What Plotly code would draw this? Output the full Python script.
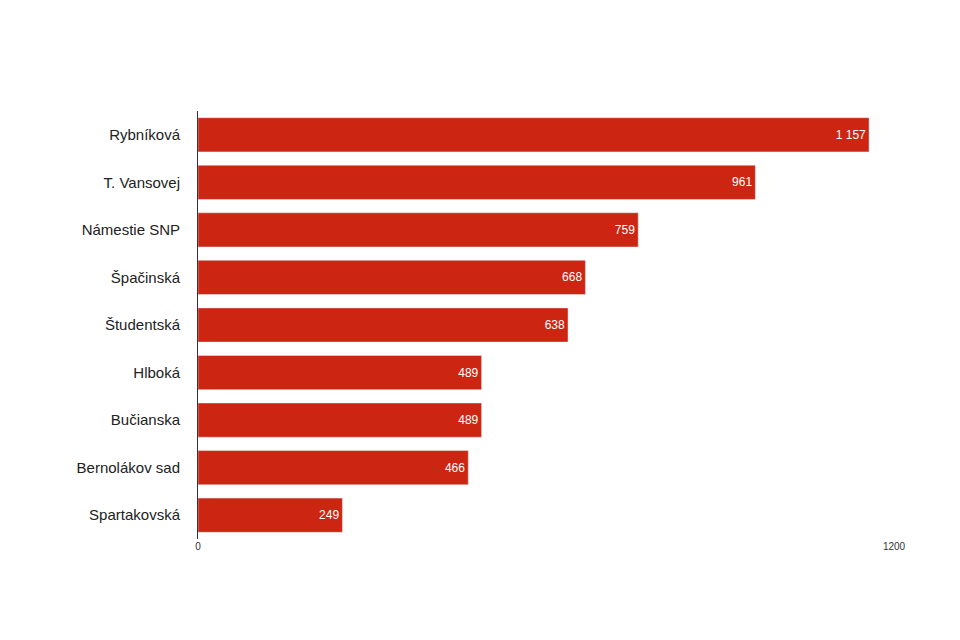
import plotly.graph_objects as go

# streets and counts, top to bottom
streets = ["Rybníková", "T. Vansovej", "Námestie SNP", "Špačinská", "Študentská",
           "Hlboká", "Bučianska", "Bernolákov sad", "Spartakovská"]
counts = [1157, 961, 759, 668, 638, 489, 489, 466, 249]
labels = [f"{v:,}".replace(",", " ") for v in counts]

fig = go.Figure(go.Bar(
    x=counts, y=streets, orientation="h",
    marker_color="#cc2613",
    text=labels, textposition="inside", insidetextanchor="end",
    textfont=dict(color="white", size=12, family="Liberation Sans"),
    cliponaxis=False,
))

fig.update_layout(
    width=960, height=640,
    margin=dict(l=190, r=74, t=103, b=109),
    plot_bgcolor="white", paper_bgcolor="white",
    showlegend=False, bargap=0.28,
    font=dict(family="Liberation Sans", color="#222"),
)
fig.update_xaxes(range=[0, 1200], tickvals=[0, 1200], ticktext=["0", "1200"],
                 showgrid=True, gridcolor="#cccccc", gridwidth=1,
                 zeroline=False, tickfont=dict(size=10, color="#333"))
fig.update_yaxes(autorange="reversed", showline=True, linecolor="#333", linewidth=1,
                 ticks="", ticklabelstandoff=14, tickfont=dict(size=15, color="#222"))

fig.write_html("out.html")
